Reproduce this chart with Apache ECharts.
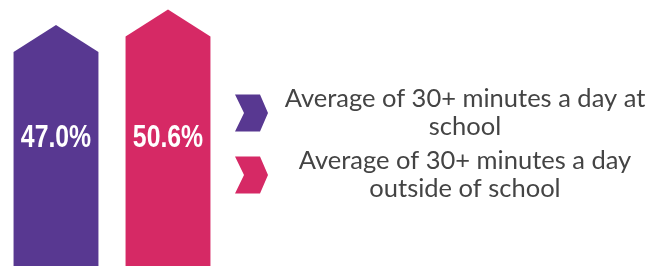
<!DOCTYPE html>
<html>
<head>
<meta charset="utf-8">
<script src="https://cdn.jsdelivr.net/npm/echarts@6/dist/echarts.min.js"></script>
<style>html,body{margin:0;padding:0;background:#fff;}#c{width:650px;height:266px;}</style>
</head>
<body>
<div id="c"></div>
<script>
const categories = ['Average of 30+ minutes a day at school', 'Average of 30+ minutes a day outside of school'];
const values = [47.0, 50.6];
const legendLines = [['Average of 30+ minutes a day at', 'school'], ['Average of 30+ minutes a day', 'outside of school']];
const colors = ['#583891', '#d62965'];

const yMin = -9, yMax = 52.8;
const chart = echarts.init(document.getElementById('c'), null, {renderer: 'canvas'});

function renderArrow(params, api) {
  const x = api.value(0), v = api.value(1);
  const tip = api.coord([x, v]);
  const base = api.coord([x, yMin]);
  const bw = api.size([1, 0])[0] * 0.758;
  const head = 27;
  const l = tip[0] - bw / 2, r = tip[0] + bw / 2;
  return {
    type: 'group',
    children: [
      {type: 'polygon', shape: {points: [[l, base[1]], [l, tip[1] + head], [tip[0], tip[1]], [r, tip[1] + head], [r, base[1]]]},
       style: {fill: api.visual('color')}},
      {type: 'text', x: tip[0], y: base[1] - 127.5, scaleX: 0.8,
       style: {text: v.toFixed(1) + '%', fill: '#fff', fontSize: 31, fontWeight: 'bold',
               fontFamily: '"Liberation Sans", Arial, sans-serif',
               align: 'center', verticalAlign: 'middle'}}
    ]
  };
}

const series = categories.map(function (name, i) {
  return {
    type: 'custom', name: name, renderItem: renderArrow,
    itemStyle: {color: colors[i]},
    data: [[i, values[i]]],
    encode: {x: 0, y: 1}
  };
});

chart.setOption({
  animation: false,
  grid: {left: -3, width: 227, top: 0, bottom: 0},
  xAxis: {type: 'category', data: categories, show: false},
  yAxis: {type: 'value', min: yMin, max: yMax, show: false},
  legend: {
    orient: 'vertical', left: 230, top: 81, itemGap: 8,
    itemWidth: 33, itemHeight: 37,
    selectedMode: false,
    icon: 'path://M0,0 L25,0 L33,18.5 L25,37 L0,37 L9,18.5 Z',
    data: categories,
    formatter: function (name) {
      const i = categories.indexOf(name);
      return legendLines[i].map(function (s) { return '{c|' + s + '}'; }).join('\n');
    },
    textStyle: {
      color: '#444',
      rich: {c: {width: 384, align: 'center', fontSize: 25.5, lineHeight: 28, fontFamily: 'Lato', color: '#444'}}
    }
  },
  series: series
});
</script>
</body>
</html>
